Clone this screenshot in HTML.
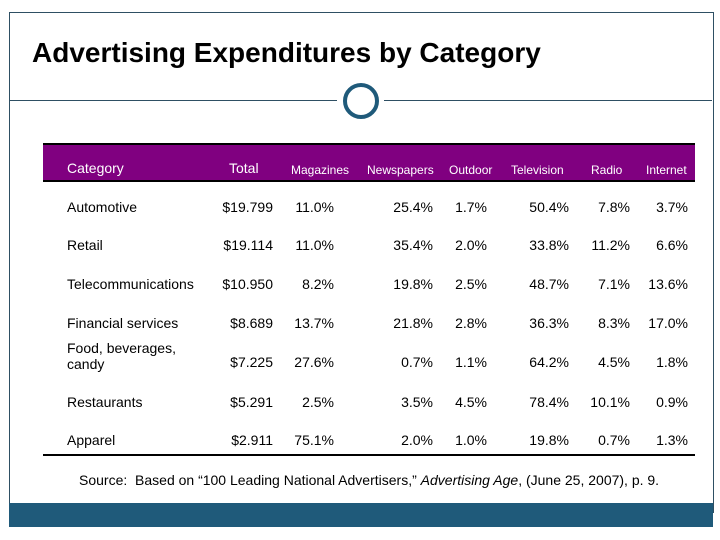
<!DOCTYPE html>
<html><head><meta charset="utf-8"><style>
body{margin:0;width:720px;height:540px;background:#fff;position:relative;overflow:hidden;font-family:"Liberation Sans",sans-serif;}
.a{position:absolute;white-space:nowrap;}
.c{font-size:14px;color:#000;}
.h{font-size:12px;color:#fff;}
</style></head><body>
<div class="a" style="left:9px;top:12px;width:703px;height:500px;border:1px solid #2e4f63;border-bottom:none;"></div>
<div class="a" style="left:32px;top:37px;font-size:28px;font-weight:bold;">Advertising Expenditures by Category</div>
<div class="a" style="left:10px;top:100px;width:327px;height:1px;background:#2e4f63;"></div>
<div class="a" style="left:384px;top:100px;width:328px;height:1px;background:#2e4f63;"></div>
<div class="a" style="left:343px;top:83px;width:28px;height:28px;border:4px solid #1f5a7a;border-radius:50%;"></div>
<div class="a" style="left:43px;top:143px;width:652px;height:35px;background:#800080;border-top:2px solid #000;border-bottom:2px solid #000;"></div>
<div class="a" style="left:43px;top:454px;width:652px;height:2px;background:#000;"></div>
<div class="a" style="left:79px;top:472px;font-size:14px;">Source:&nbsp; Based on “100 Leading National Advertisers,” <i>Advertising Age</i>, (June 25, 2007), p. 9.</div>
<div class="a" style="left:9px;top:503px;width:704px;height:24px;background:#1f5a7a;"></div>
<div id="t"></div>
<script>
const headers=["Category","Total","Magazines","Newspapers","Outdoor","Television","Radio","Internet"];
const categories=["Automotive","Retail","Telecommunications","Financial services","Food, beverages,<br>candy","Restaurants","Apparel"];
const totals=["$19.799","$19.114","$10.950","$8.689","$7.225","$5.291","$2.911"];
const magazines=["11.0%","11.0%","8.2%","13.7%","27.6%","2.5%","75.1%"];
const newspapers=["25.4%","35.4%","19.8%","21.8%","0.7%","3.5%","2.0%"];
const outdoor=["1.7%","2.0%","2.5%","2.8%","1.1%","4.5%","1.0%"];
const television=["50.4%","33.8%","48.7%","36.3%","64.2%","78.4%","19.8%"];
const radio=["7.8%","11.2%","7.1%","8.3%","4.5%","10.1%","0.7%"];
const internet=["3.7%","6.6%","13.6%","17.0%","1.8%","0.9%","1.3%"];
const cols=[totals,magazines,newspapers,outdoor,television,radio,internet];
const colRight=[273,334,433,487,569,630,688];
const headX=[67,229,291,367,449,511,591,646];
const headY=[160,160,163,163,163,163,163,163];
const rowY=[207,245,284,323,362,402,440];
const t=document.getElementById('t');
headers.forEach((h,i)=>{const d=document.createElement('div');d.className='a h';


d.style.left=headX[i]+'px';d.style.top=headY[i]+'px';d.style.fontSize=(i<2?14:12)+'px';d.textContent=h;t.appendChild(d);});
categories.forEach((c,r)=>{const d=document.createElement('div');d.className='a c';


d.style.left='67px';d.style.lineHeight='16px';
const lines=c.includes('<br>')?2:1;
d.style.top=(lines>1?340:rowY[r]-8)+'px';
d.innerHTML=c;t.appendChild(d);
cols.forEach((col,k)=>{const e=document.createElement('div');e.className='a c';


e.style.right=(720-colRight[k])+'px';e.style.top=(rowY[r]-8)+'px';e.style.lineHeight='16px';e.textContent=col[r];t.appendChild(e);});});
</script>
</body></html>
